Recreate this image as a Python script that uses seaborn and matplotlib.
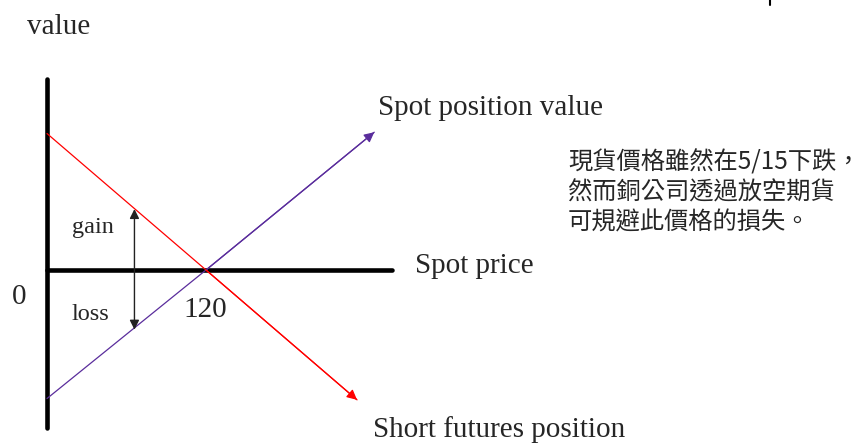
import matplotlib
matplotlib.use("Agg")
import matplotlib.pyplot as plt
import seaborn as sns
import pandas as pd

# ---- data (spot price, value) ----
spot_prices = [0, 120, 247]
spot_values = [-97, 0, 104]
futures_prices = [0, 120, 234]
futures_values = [103, 0, -98]
axis_top = 144
axis_bottom = -119
axis_right = 260
hedge_price = 66
gain_value = 46
loss_value = -45
breakeven_label = "120"

sns.set_theme(style="white")
plt.rcParams['font.family'] = ['Liberation Serif', 'DejaVu Serif']

W, H = 863, 444
fig = plt.figure(figsize=(W / 100, H / 100), dpi=100)
ax = fig.add_axes([0, 0, 1, 1])
f = 120 / 159.0
ax.set_xlim((0 - 47) * f, (W - 47) * f)
ax.set_ylim((270 - H) * f, (270 - 0) * f)
ax.axis("off")

# axes lines
axis_df_v = pd.DataFrame({"x": [0, 0], "y": [axis_bottom, axis_top]})
axis_df_h = pd.DataFrame({"x": [0, axis_right], "y": [0, 0]})
sns.lineplot(data=axis_df_v, x="x", y="y", ax=ax, color="black", lw=3.3, sort=False, estimator=None)
sns.lineplot(data=axis_df_h, x="x", y="y", ax=ax, color="black", lw=3.3, sort=False, estimator=None)

# spot and futures lines
spot_df = pd.DataFrame({"price": spot_prices, "value": spot_values})
fut_df = pd.DataFrame({"price": futures_prices, "value": futures_values})
purple = "#5a2d9c"
red = "#ff0000"
sns.lineplot(data=spot_df, x="price", y="value", ax=ax, color=purple, lw=0.9, sort=False, estimator=None)
sns.lineplot(data=fut_df, x="price", y="value", ax=ax, color=red, lw=0.9, sort=False, estimator=None)

ax.annotate("", xy=(spot_prices[-1], spot_values[-1]), xytext=(spot_prices[1], spot_values[1]),
            arrowprops=dict(arrowstyle="-|>", color=purple, lw=0.9, mutation_scale=15,
                            shrinkA=0, shrinkB=0))
ax.annotate("", xy=(futures_prices[-1], futures_values[-1]), xytext=(futures_prices[1], futures_values[1]),
            arrowprops=dict(arrowstyle="-|>", color=red, lw=0.9, mutation_scale=15,
                            shrinkA=0, shrinkB=0))

# gain/loss double arrow
ax.annotate("", xy=(hedge_price, gain_value), xytext=(hedge_price, loss_value),
            arrowprops=dict(arrowstyle="<|-|>", color="#222222", lw=1.0, mutation_scale=14,
                            shrinkA=0, shrinkB=0))

# small mark top right
sns.lineplot(x=[(770 - 47) * f, (770 - 47) * f], y=[(270 - 0) * f, (270 - 5) * f], ax=ax,
             color="black", lw=1.5, sort=False, estimator=None)

def P(px, py):
    return ((px - 47) * f, (270 - py) * f)

big = 21
ax.text(*P(27, 34), "value", fontsize=big, va="baseline", ha="left")
ax.text(*P(378, 115), "Spot position value", fontsize=big, va="baseline", ha="left")
ax.text(*P(415, 273), "Spot price", fontsize=big, va="baseline", ha="left")
ax.text(*P(12, 304), "0", fontsize=big, va="baseline", ha="left")
ax.text(*P(183, 317), breakeven_label, fontsize=big, va="baseline", ha="left")
ax.text(*P(72, 233), "gain", fontsize=17.5, va="baseline", ha="left")
ax.text(*P(72, 320), "loss", fontsize=17.5, va="baseline", ha="left")
ax.text(*P(373, 437), "Short futures position", fontsize=big, va="baseline", ha="left")

ax.text(*P(568, 192), "現貨價格雖然在5/15下跌，\n然而銅公司透過放空期貨\n可規避此價格的損失。",
        fontsize=17.5, va="center", ha="left", linespacing=1.2,
        family=['Noto Sans CJK TC', 'DejaVu Sans'])

fig.savefig("out.png", dpi=100)
